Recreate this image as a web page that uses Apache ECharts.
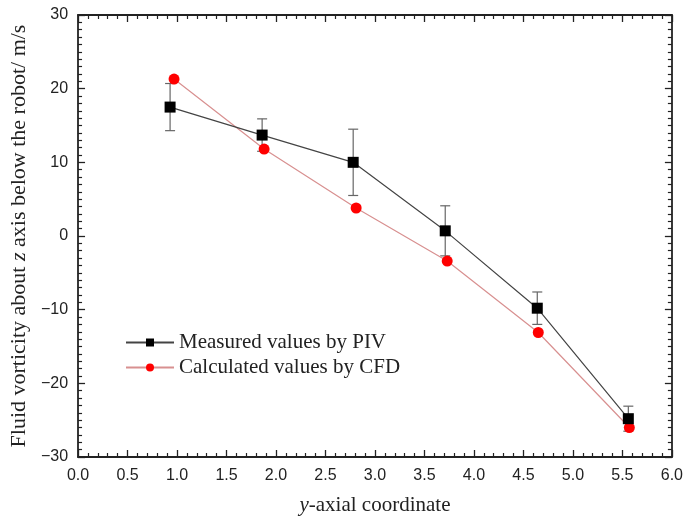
<!DOCTYPE html>
<html><head><meta charset="utf-8">
<script src="https://cdn.jsdelivr.net/npm/echarts@6/dist/echarts.min.js"></script>
<style>html,body{margin:0;padding:0;background:#fff}#c{width:686px;height:521px}</style>
</head><body><div id="c"></div>
<script>
const measuredX = [0.93, 1.86, 2.78, 3.71, 4.64, 5.56];
const measuredY = [17.5, 13.7, 10.0, 0.7, -9.8, -24.8];
const measuredErr = [3.2, 2.2, 4.5, 3.4, 2.2, 1.7];
const cfdX = [0.97, 1.88, 2.81, 3.73, 4.65, 5.57];
const cfdY = [21.3, 11.8, 3.8, -3.4, -13.1, -26.0];
const seriesNames = ['Measured values by PIV', 'Calculated values by CFD'];

const chart = echarts.init(document.getElementById('c'), null, {renderer: 'canvas'});
const axisCommon = {
  axisLine: {show: true, onZero: false, lineStyle: {color: '#222', width: 1.8}},
  axisTick: {show: true, inside: true, length: 7, lineStyle: {color: '#222', width: 1.3}},
  splitLine: {show: false}
};
const minor = n => ({show: true, splitNumber: n, length: 4, lineStyle: {color: '#222', width: 1.2}});
const labelStyle = {color: '#222', fontFamily: 'Liberation Sans', fontSize: 16};
const xBase = Object.assign({type: 'value', min: 0, max: 6, interval: 0.5}, axisCommon);
const yBase = Object.assign({type: 'value', min: -30, max: 30, interval: 10}, axisCommon);
const nameStyle = fs => ({fontFamily: 'Liberation Serif', fontSize: fs, color: '#222',
  rich: {i: {fontFamily: 'Liberation Serif', fontStyle: 'italic', fontSize: fs, color: '#222'}}});

const option = {
  backgroundColor: '#fff',
  animation: false,
  grid: {left: 76, right: 13, top: 15, bottom: 64},
  legend: {
    orient: 'vertical', left: 120, top: 327, itemGap: 4, itemWidth: 48, itemHeight: 10,
    data: seriesNames,
    textStyle: {fontFamily: 'Liberation Serif', fontSize: 21, color: '#222'}
  },
  xAxis: [
    Object.assign({}, xBase, {
      position: 'bottom', minorTick: minor(5),
      axisLabel: Object.assign({margin: 11, formatter: v => v.toFixed(1)}, labelStyle),
      name: '{i|y}-axial coordinate', nameLocation: 'middle', nameGap: 38,
      nameTextStyle: nameStyle(21)
    }),
    Object.assign({}, xBase, {position: 'top', minorTick: minor(5), axisLabel: {show: false}})
  ],
  yAxis: [
    Object.assign({}, yBase, {
      position: 'left', minorTick: minor(10),
      axisLabel: Object.assign({margin: 10, formatter: v => String(v).replace('-', '\u2212')}, labelStyle),
      name: 'Fluid vorticity about {i|z} axis below the robot/ m/s', nameLocation: 'middle', nameGap: 48,
      nameTextStyle: nameStyle(22)
    }),
    Object.assign({}, yBase, {position: 'right', minorTick: minor(10), axisLabel: {show: false}})
  ],
  series: [
    {
      type: 'custom', name: 'err', silent: true, z: 1,
      data: measuredX.map((x, i) => [x, measuredY[i] - measuredErr[i], measuredY[i] + measuredErr[i]]),
      renderItem: function (params, api) {
        const x = api.value(0);
        const lo = api.coord([x, api.value(1)]);
        const hi = api.coord([x, api.value(2)]);
        const w = 5;
        const st = {stroke: '#666', lineWidth: 1.2};
        return {type: 'group', children: [
          {type: 'line', shape: {x1: lo[0], y1: lo[1], x2: hi[0], y2: hi[1]}, style: st},
          {type: 'line', shape: {x1: lo[0] - w, y1: lo[1], x2: lo[0] + w, y2: lo[1]}, style: st},
          {type: 'line', shape: {x1: hi[0] - w, y1: hi[1], x2: hi[0] + w, y2: hi[1]}, style: st}
        ]};
      }
    },
    {
      type: 'line', name: seriesNames[1], z: 3,
      data: cfdX.map((x, i) => [x, cfdY[i]]),
      symbol: 'circle', symbolSize: 11,
      itemStyle: {color: '#ff0000'},
      lineStyle: {color: '#d89090', width: 1.2}
    },
    {
      type: 'line', name: seriesNames[0], z: 4,
      data: measuredX.map((x, i) => [x, measuredY[i]]),
      symbol: 'rect', symbolSize: 11,
      itemStyle: {color: '#000'},
      lineStyle: {color: '#444', width: 1.2}
    }
  ]
};
chart.setOption(option);
</script></body></html>
